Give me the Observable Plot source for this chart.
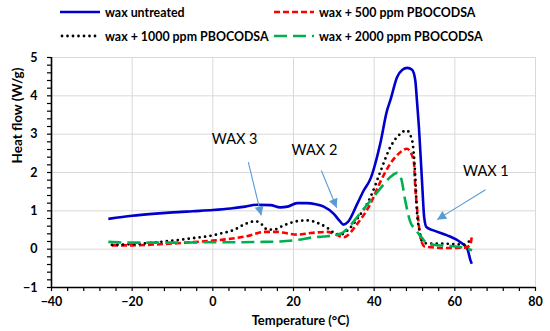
<!DOCTYPE html>
<html><head><meta charset="utf-8">
<script src="https://cdn.jsdelivr.net/npm/d3@7"></script>
<script src="https://cdn.jsdelivr.net/npm/@observablehq/plot@0.6"></script>
<style>
body{margin:0;background:#fff;font-family:Lato,sans-serif;}
#legend{position:relative;width:550px;height:48px;}
.item{position:absolute;display:flex;align-items:center;font-weight:bold;font-size:12.4px;color:#000;white-space:nowrap;height:16px;}
.item svg{margin-right:5px;}
</style></head><body>
<div id="legend"></div>
<div id="chart"></div>
<script>
// ---- Data ----
const seriesNames = ["wax untreated", "wax + 500 ppm PBOCODSA", "wax + 1000 ppm PBOCODSA", "wax + 2000 ppm PBOCODSA"];
const seriesColors = ["#0000cc", "#ff0000", "#000000", "#00b050"];
const seriesDash = [null, "6,3", "0,5.5", "13,6"];

const untreatedT  = [-25.9,-20,-15,-10,-5,0,4.4,8,11,14.3,16.7,18.5,20.9,23.4,25.5,27.5,30,31.5,32.4,33.5,35.8,37.4,39.1,41.5,43.2,44,45.7,47,48.2,49.4,50.2,50.6,51.1,51.9,52.4,53,54.7,58.1,61.4,63.1,63.9,64.2];
const untreatedHF = [0.79,0.87,0.92,0.96,0.99,1.02,1.06,1.11,1.16,1.15,1.09,1.11,1.20,1.20,1.17,1.11,0.92,0.73,0.64,0.71,1.18,1.53,1.84,2.75,3.62,3.88,4.49,4.68,4.73,4.68,4.40,3.88,3.18,1.70,0.83,0.57,0.49,0.36,0.18,0.01,-0.30,-0.38];

const ppm500T  = [-25,-20,-13,-0.6,4.4,9.3,12.6,15.9,18,20.9,24.2,28.3,30.8,32.4,35.8,39.1,41.5,44,46.5,48.1,49.8,50.2,50.8,51.5,52.5,58,62.5,63.8,64.2];
const ppm500HF = [0.10,0.10,0.13,0.22,0.27,0.36,0.45,0.45,0.42,0.38,0.42,0.45,0.37,0.31,0.66,1.19,1.75,2.23,2.53,2.62,2.32,1.60,0.90,0.30,0.07,0.03,0.04,0.10,0.33];

const ppm1000T  = [-25,-20,-13,-4.7,0,2,5.2,8.1,10.6,12.2,13.5,15.1,17.6,20.9,23.4,25.8,28.3,30,31.6,33.5,35.8,39.1,41.5,44,46.5,48,49.4,50.2,50.6,51.2,51.8,53,58,62.2,63.5,64];
const ppm1000HF = [0.11,0.13,0.19,0.29,0.36,0.41,0.50,0.66,0.73,0.64,0.51,0.51,0.62,0.73,0.75,0.69,0.56,0.43,0.38,0.50,0.79,1.36,2.01,2.66,3.01,3.10,2.84,1.88,1.00,0.50,0.22,0.15,0.14,0.12,0.20,0.25];

const ppm2000T  = [-25.9,-20,-10,-0.6,6,12.6,16.7,20.9,25,27.5,31.6,33.5,35.8,39.1,41.5,44,45.7,46.7,47.7,49,50.2,51.8,53.1,55,58,62,64.3];
const ppm2000HF = [0.19,0.17,0.17,0.18,0.18,0.19,0.20,0.24,0.31,0.33,0.40,0.55,0.84,1.27,1.58,1.88,1.99,1.84,1.27,0.70,0.52,0.30,0.15,0.11,0.09,0.04,-0.03];

const xTicks = [-40,-20,0,20,40,60,80];
const yTicks = [-1,0,1,2,3,4,5];
const xLabel = "Temperature (°C)";
const yLabel = "Heat flow (W/g)";

const annotLabels = ["WAX 3","WAX 2","WAX 1"];
const annotTextX = [5.4, 25.2, 67.7];
const annotTextY = [2.86, 2.57, 2.03];
const arrowX1 = [8.8, 26.9, 67.6];
const arrowY1 = [2.27, 2.05, 1.55];
const arrowX2 = [12.0, 30.7, 55.6];
const arrowY2 = [0.88, 1.08, 0.77];

// ---- Build tables ----
const seriesT = [untreatedT, ppm500T, ppm1000T, ppm2000T];
const seriesHF = [untreatedHF, ppm500HF, ppm1000HF, ppm2000HF];
const tables = seriesT.map((ts, i) => ts.map((t, j) => ({T: t, HF: seriesHF[i][j], s: seriesNames[i]})));
const annots = annotLabels.map((l, i) => ({l, x: annotTextX[i], y: annotTextY[i], x1: arrowX1[i], y1: arrowY1[i], x2: arrowX2[i], y2: arrowY2[i]}));
const xMinor = d3.range(-40, 80.001, 4);
const yMinor = d3.range(-1, 5.001, 0.2).map(v => +v.toFixed(2));

// ---- Legend ----
const legend = document.getElementById("legend");
const legendPos = [[60, 4], [274, 4], [60, 28], [274, 28]];
seriesNames.forEach((name, i) => {
  const div = document.createElement("div");
  div.className = "item";
  div.style.left = legendPos[i][0] + "px";
  div.style.top = legendPos[i][1] + "px";
  const dash = seriesDash[i] ? `stroke-dasharray="${seriesDash[i]}"` : "";
  const cap = i === 2 ? `stroke-linecap="round"` : "";
  const w = i === 2 ? 2.8 : 2.7;
  div.innerHTML = `<svg width="40" height="8"><line x1="${i===2?2:0}" y1="4" x2="40" y2="4" stroke="${seriesColors[i]}" stroke-width="${w}" ${dash} ${cap}/></svg><span>${name}</span>`;
  legend.appendChild(div);
});

function filledHead(color, context) {
  const ns = "http://www.w3.org/2000/svg";
  const doc = (context && context.document) || document;
  const m = doc.createElementNS(ns, "marker");
  m.setAttribute("viewBox", "-10 -5 10 10");
  m.setAttribute("markerWidth", 10);
  m.setAttribute("markerHeight", 10);
  m.setAttribute("orient", "auto");
  m.setAttribute("markerUnits", "userSpaceOnUse");
  m.setAttribute("fill", color);
  m.setAttribute("stroke", "none");
  const p = doc.createElementNS(ns, "path");
  p.setAttribute("d", "M-9,-4.5L0,0L-9,4.5Z");
  m.appendChild(p);
  return m;
}

const chart = Plot.plot({
  width: 550, height: 283,
  marginLeft: 51, marginRight: 15, marginTop: 9, marginBottom: 44,
  x: {domain: [-40, 80]},
  y: {domain: [-1, 5]},
  style: {fontFamily: "Lato, sans-serif", fontSize: "13px", color: "#000", background: "#fff", overflow: "visible"},
  marks: [
    Plot.gridX(xTicks.slice(1), {stroke: "#d9d9d9", strokeOpacity: 1, strokeWidth: 1}),
    Plot.gridY(yTicks.slice(1), {stroke: "#d9d9d9", strokeOpacity: 1, strokeWidth: 1}),
    Plot.axisX(xMinor, {tickSize: 4, tickFormat: () => "", label: null, strokeWidth: 1.2}),
    Plot.axisY(yMinor, {tickSize: 4, tickFormat: () => "", label: null, strokeWidth: 1.2}),
    Plot.axisX(xTicks, {tickSize: 0, tickPadding: 10, label: null, fontWeight: "bold", fontSize: 12.5}),
    Plot.axisY(yTicks, {tickSize: 0, tickPadding: 14, label: null, fontWeight: "bold", fontSize: 12.5}),
    Plot.ruleX([xTicks[0]], {stroke: "#000", strokeWidth: 1.6}),
    Plot.ruleY([yTicks[0]], {stroke: "#000", strokeWidth: 1.6}),
    ...tables.map((t, i) => Plot.line(t, {
      x: "T", y: "HF", stroke: seriesColors[i], strokeWidth: i === 2 ? 2.8 : 2.6,
      strokeDasharray: seriesDash[i] ?? undefined,
      strokeLinecap: i === 2 ? "round" : "butt",
      curve: "monotone-x"
    })),
    Plot.link(annots, {x1: "x1", y1: "y1", x2: "x2", y2: "y2", stroke: "#5b9bd5", strokeWidth: 1.1, markerEnd: filledHead}),
    Plot.text(annots, {x: "x", y: "y", text: "l", fontSize: 14.5, fill: "#000", fontWeight: "normal"}),
    Plot.text([xLabel], {text: d => d, frameAnchor: "bottom", dy: 33, dx: 7, lineAnchor: "middle", fontSize: 13, fontWeight: "bold"}),
    Plot.text([yLabel], {text: d => d, frameAnchor: "left", rotate: -90, dx: -34, dy: -9, lineAnchor: "middle", fontSize: 13.5, fontWeight: "bold"})
  ]
});
document.getElementById("chart").appendChild(chart);
</script>
</body></html>
